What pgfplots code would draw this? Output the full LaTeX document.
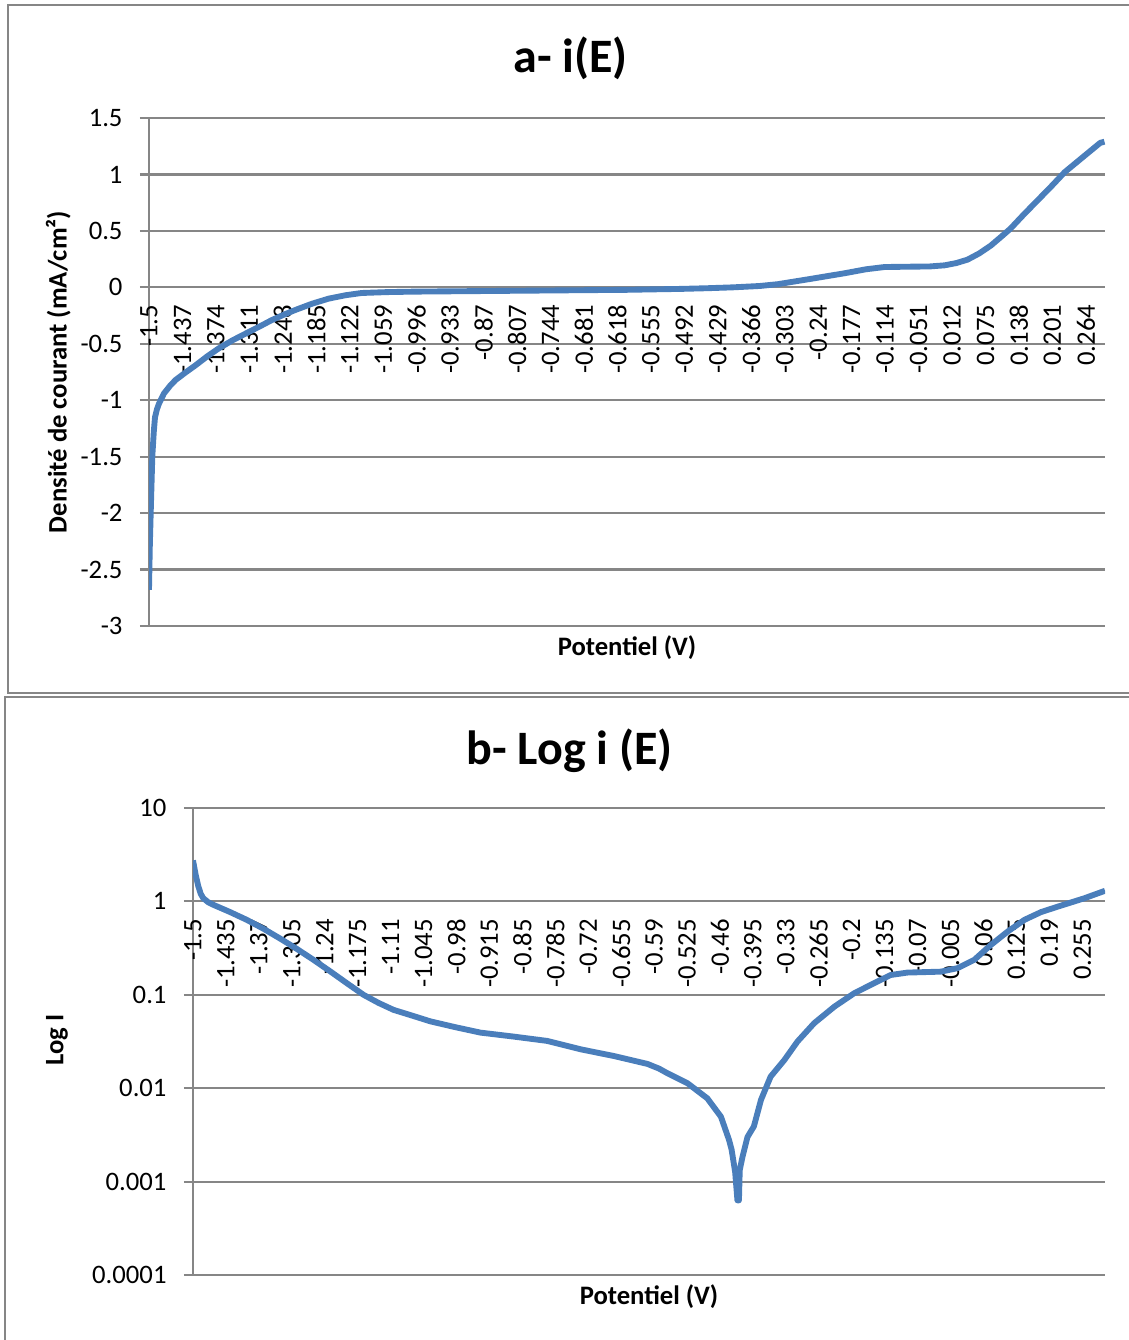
\documentclass[border=0pt]{standalone}
\usepackage{fontspec}
\setmainfont{Carlito}
\usepackage{pgfplots}
\pgfplotsset{compat=1.18}
\definecolor{gridgray}{RGB}{134,134,134}
\definecolor{xlblue}{RGB}{74,126,187}

% shared look of the two Excel-style panels
\pgfplotsset{
  excelpanel/.style={
    scale only axis,
    xmin=-1.5, xmax=0.3,
    axis x line*=middle, axis y line*=left,
    hide obscured x ticks=false, hide obscured y ticks=false,
    axis line style={gridgray, line width=0.8pt},
    ymajorgrids, grid style={gridgray, line width=0.8pt},
    xtick style={draw=none},
    ytick style={gridgray, line width=0.8pt},
    tick align=outside, major tick length=3.4pt,
    tick label style={font=\fontsize{10}{12}\selectfont},
    xticklabel style={anchor=east, rotate=90, inner xsep=3pt, inner ysep=0pt},
    yticklabel style={xshift=-3pt},
    title style={font=\fontsize{18}{22}\selectfont\bfseries, anchor=center},
    label style={font=\fontsize{10}{12}\selectfont\bfseries, anchor=center},
  },
}

\begin{document}
\begin{tikzpicture}
\useasboundingbox (0,0) rectangle (423.375pt,-502.5pt);
\draw[gridgray, line width=0.75pt] (3pt,-1.9pt) rectangle (430pt,-259.9pt);
\draw[gridgray, line width=0.75pt] (1.9pt,-261.4pt) rectangle (430pt,-510pt);

% a- i(E)
\begin{axis}[
  excelpanel,
  at={(55.875pt,-234.75pt)}, anchor=south west,
  width=358.5pt, height=190.5pt,
  ymin=-3, ymax=1.5,
  ytick={-3,-2.5,-2,-1.5,-1,-0.5,0,0.5,1,1.5},
  yticklabels={-3,-2.5,-2,-1.5,-1,-0.5,0,0.5,1,1.5},
  xtick={-1.5,-1.437,-1.374,-1.311,-1.248,-1.185,-1.122,-1.059,-0.996,-0.933,-0.87,-0.807,-0.744,-0.681,-0.618,-0.555,-0.492,-0.429,-0.366,-0.303,-0.24,-0.177,-0.114,-0.051,0.012,0.075,0.138,0.201,0.264},
  xticklabels={-1.5,-1.437,-1.374,-1.311,-1.248,-1.185,-1.122,-1.059,-0.996,-0.933,-0.87,-0.807,-0.744,-0.681,-0.618,-0.555,-0.492,-0.429,-0.366,-0.303,-0.24,-0.177,-0.114,-0.051,0.012,0.075,0.138,0.201,0.264},
  title={a- i(E)},
  title style={at={(axis description cs:0.441,1.086)}},
  xlabel={Potentiel (V)},
  xlabel style={at={(axis description cs:0.5,-0.043)}},
  ylabel={Densité de courant (mA/cm²)},
  ylabel style={at={(axis description cs:-0.095,0.5)}},
]
\addplot[xlblue, line width=2.2pt, line join=round] coordinates {
  (-1.5,-2.68) (-1.4985,-2.30) (-1.4968,-2.00) (-1.4950,-1.70) (-1.4938,-1.50)
  (-1.4910,-1.28) (-1.4887,-1.15) (-1.4850,-1.08) (-1.4812,-1.03) (-1.4718,-0.94)
  (-1.4600,-0.87) (-1.4498,-0.82) (-1.4300,-0.75) (-1.4122,-0.69) (-1.3900,-0.61)
  (-1.3684,-0.54) (-1.3430,-0.47) (-1.3182,-0.41) (-1.2930,-0.35) (-1.2688,-0.29)
  (-1.2450,-0.24) (-1.2242,-0.20) (-1.1930,-0.145) (-1.1617,-0.10) (-1.1300,-0.07)
  (-1.0996,-0.05) (-1.0500,-0.042) (-1.0000,-0.038) (-0.9000,-0.034) (-0.8000,-0.030)
  (-0.7000,-0.026) (-0.6000,-0.022) (-0.5000,-0.014) (-0.4500,-0.008) (-0.4000,0.000)
  (-0.3500,0.012) (-0.3160,0.028) (-0.2540,0.075) (-0.1900,0.125) (-0.1500,0.160)
  (-0.1150,0.180) (-0.0660,0.183) (-0.0300,0.185) (-0.0020,0.195) (0.0200,0.215)
  (0.0410,0.245) (0.0630,0.300) (0.0850,0.370) (0.1050,0.450) (0.1220,0.520)
  (0.1480,0.650) (0.1730,0.770) (0.2000,0.900) (0.2240,1.020) (0.2600,1.160)
  (0.2910,1.280) (0.2990,1.290)
};
\end{axis}

% b- Log i (E)
\begin{axis}[
  excelpanel,
  at={(72.375pt,-478.125pt)}, anchor=south west,
  width=342pt, height=175.125pt,
  ymode=log, ymin=1e-4, ymax=10,
  yminorticks=false,
  ytick={1e-4,1e-3,0.01,0.1,1,10},
  yticklabels={0.0001,0.001,0.01,0.1,1,10},
  xtick={-1.5,-1.435,-1.37,-1.305,-1.24,-1.175,-1.11,-1.045,-0.98,-0.915,-0.85,-0.785,-0.72,-0.655,-0.59,-0.525,-0.46,-0.395,-0.33,-0.265,-0.2,-0.135,-0.07,-0.005,0.06,0.125,0.19,0.255},
  xticklabels={-1.5,-1.435,-1.37,-1.305,-1.24,-1.175,-1.11,-1.045,-0.98,-0.915,-0.85,-0.785,-0.72,-0.655,-0.59,-0.525,-0.46,-0.395,-0.33,-0.265,-0.2,-0.135,-0.07,-0.005,0.06,0.125,0.19,0.255},
  title={b- Log i (E)},
  title style={at={(axis description cs:0.413,1.089)}},
  xlabel={Potentiel (V)},
  xlabel style={at={(axis description cs:0.5,-0.047)}},
  ylabel={Log I},
  ylabel style={at={(axis description cs:-0.149,0.503)}},
]
\addplot[xlblue, line width=2.2pt, line join=round] coordinates {
  (-1.5,2.75) (-1.4945,1.90) (-1.4895,1.45) (-1.4846,1.20) (-1.4796,1.08)
  (-1.4700,0.98) (-1.4599,0.92) (-1.4270,0.77) (-1.3939,0.635) (-1.3610,0.51)
  (-1.3280,0.40) (-1.2950,0.31) (-1.2623,0.237) (-1.2290,0.178) (-1.1962,0.133)
  (-1.1634,0.100) (-1.1340,0.082) (-1.1042,0.069) (-1.0680,0.060) (-1.0316,0.052)
  (-0.9820,0.045) (-0.9328,0.0394) (-0.8670,0.0357) (-0.8010,0.0321) (-0.7350,0.0261)
  (-0.6690,0.0221) (-0.6030,0.0182) (-0.5800,0.0162) (-0.5640,0.0145) (-0.5240,0.0113)
  (-0.4850,0.0078) (-0.4580,0.00495) (-0.4420,0.00279) (-0.4370,0.0022) (-0.4300,0.00127)
  (-0.4255,0.00063) (-0.4225,0.00063) (-0.4209,0.00133) (-0.4156,0.00183) (-0.4057,0.0030)
  (-0.3930,0.0039) (-0.3790,0.0075) (-0.3600,0.0133) (-0.3330,0.020) (-0.3070,0.0316)
  (-0.2740,0.0497) (-0.2340,0.0748) (-0.1950,0.104) (-0.1560,0.133) (-0.1230,0.163)
  (-0.0900,0.173) (-0.0240,0.177) (0.0090,0.193) (0.0420,0.237) (0.0750,0.343)
  (0.1080,0.476) (0.1410,0.635) (0.1740,0.77) (0.2070,0.88) (0.2590,1.08)
  (0.3000,1.30)
};
\end{axis}
\end{tikzpicture}
\end{document}
